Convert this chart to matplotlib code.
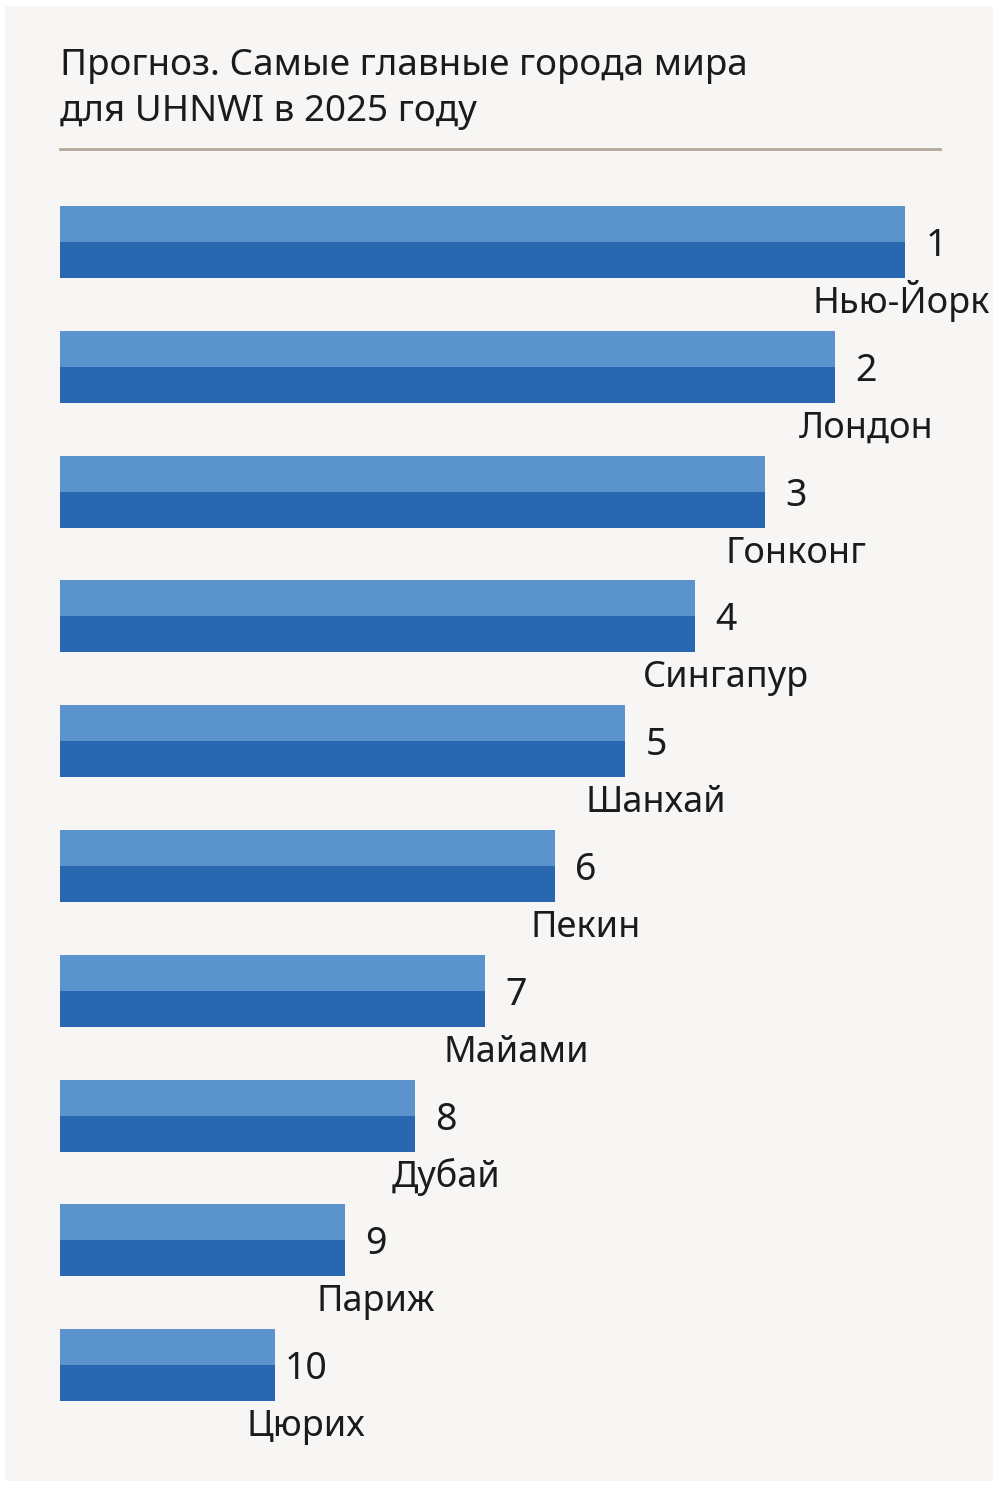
import matplotlib
matplotlib.use("Agg")
import matplotlib.pyplot as plt
from matplotlib.lines import Line2D
from matplotlib.patches import Rectangle

plt.rcParams['font.family'] = ['Noto Sans', 'DejaVu Sans']

# данные
title_lines = ["Прогноз. Самые главные города мира", "для UHNWI в 2025 году"]
cities = ["Нью-Йорк", "Лондон", "Гонконг", "Сингапур", "Шанхай",
          "Пекин", "Майами", "Дубай", "Париж", "Цюрих"]
ranks = [1, 2, 3, 4, 5, 6, 7, 8, 9, 10]
lengths = [12.07, 11.07, 10.07, 9.07, 8.07, 7.07, 6.07, 5.07, 4.07, 3.07]

W, H = 1000, 1487
bg = '#f7f6f4'
light = '#5b93cd'
dark = '#2967b0'
ink = '#1b1b1b'

fig = plt.figure(figsize=(W / 100, H / 100), dpi=100, facecolor='white')
fig.patches.append(Rectangle((5 / W, 6 / H), 988 / W, 1475 / H, transform=fig.transFigure,
                             facecolor=bg, edgecolor='none', zorder=-1))

# заголовок
fig.text(60 / W, 1 - 75 / H, title_lines[0], fontsize=26.5, color=ink, va='baseline')
fig.text(60 / W, 1 - 121 / H, title_lines[1], fontsize=26.5, color=ink, va='baseline')
fig.lines.append(Line2D([60 / W, 940 / W], [1 - 149 / H, 1 - 149 / H], transform=fig.transFigure,
                        color='#b3a796', lw=2))

# область столбцов: 1 единица по x = 70 px, по y = 124.8 px
ax = fig.add_axes([60 / W, 1 - 1460 / H, 940 / W, 1280 / H])
ax.set_facecolor('none')
ax.set_xlim(0, 940 / 70)
ax.set_ylim(9.759, -0.497)
ax.axis('off')

pos = list(range(len(cities)))
h = 72 / 124.8
ax.barh([p - h / 4 for p in pos], lengths, height=h / 2, left=0, color=light, linewidth=0)
ax.barh([p + h / 4 for p in pos], lengths, height=h / 2, left=0, color=dark, linewidth=0)

off = 31 / 70
fig.canvas.draw()
for p, L, r, c in zip(pos, lengths, ranks, cities):
    ax.text(L + off, p + 14 / 124.8, str(r), fontsize=27, color=ink,
            ha='center', va='baseline')
    t = ax.text(L + off, p + 71 / 124.8, c, fontsize=26, color=ink,
                ha='center', va='baseline')
    bb = t.get_window_extent(renderer=fig.canvas.get_renderer())
    if bb.x1 > 990:
        t.set_ha('right')
        t.set_x((990 - 60) / 70)

fig.savefig('out.png', dpi=100, facecolor='white')
